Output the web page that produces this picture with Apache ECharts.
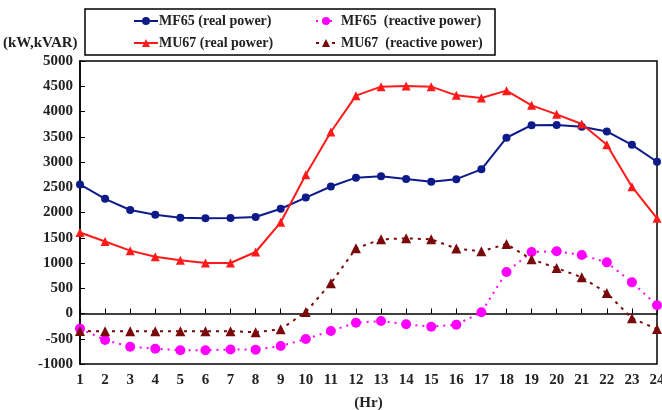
<!DOCTYPE html>
<html><head><meta charset="utf-8">
<script src="https://cdn.jsdelivr.net/npm/echarts@6/dist/echarts.min.js"></script>
<style>html,body{margin:0;padding:0;background:#fff}#c{width:662px;height:410px}</style>
</head><body><div id="c"></div>
<script>
const hours = ['1','2','3','4','5','6','7','8','9','10','11','12','13','14','15','16','17','18','19','20','21','22','23','24'];
const yTicks = [-1000, 5000, 500];
const mf65Real = [2555, 2270, 2050, 1955, 1895, 1885, 1890, 1910, 2075, 2295, 2515, 2690, 2720, 2665, 2610, 2660, 2855, 3480, 3730, 3735, 3700, 3605, 3340, 3005];
const mu67Real = [1605, 1425, 1245, 1125, 1055, 1000, 1000, 1218, 1806, 2749, 3594, 4314, 4492, 4505, 4492, 4320, 4267, 4413, 4122, 3944, 3752, 3343, 2511, 1885];
const mf65Reactive = [-300, -525, -657, -697, -729, -729, -712, -716, -644, -505, -347, -182, -149, -214, -261, -221, 24, 822, 1218, 1231, 1158, 1013, 617, 162];
const mu67Reactive = [-347, -353, -350, -350, -350, -350, -350, -370, -314, 30, 598, 1290, 1469, 1488, 1469, 1287, 1231, 1376, 1073, 901, 716, 406, -95, -307];
const names = ['MF65 (real power)', 'MU67 (real power)', 'MF65  (reactive power)', 'MU67  (reactive power)'];

const font = '"Liberation Serif", "DejaVu Serif", serif';
const chart = echarts.init(document.getElementById('c'));
chart.setOption({
  animation: false,
  backgroundColor: '#fff',
  grid: {left: 80, right: 5, top: 61, bottom: 46, containLabel: false, outerBoundsMode: 'none',
         show: true, borderColor: '#000', borderWidth: 1.5},
  graphic: [
    {type: 'rect', shape: {x: 85, y: 9, width: 410, height: 46}, style: {fill: 'none', stroke: '#000', lineWidth: 1.5}, z: 10},
    {type: 'text', left: 3, top: 36, style: {text: '(kW,kVAR)', font: 'bold 15px ' + font, fill: '#222'}}
  ],
  legend: [
    {data: [names[0], names[1]], orient: 'vertical', left: 128, top: 9, itemWidth: 24, itemHeight: 10, itemGap: 8,
     textStyle: {fontFamily: font, fontWeight: 'bold', fontSize: 14, color: '#222', padding: [0,0,0,-4]}},
    {data: [names[2], names[3]], orient: 'vertical', left: 310, top: 9, itemWidth: 20, itemHeight: 10, itemGap: 8,
     textStyle: {fontFamily: font, fontWeight: 'bold', fontSize: 14, color: '#222'}}
  ],
  xAxis: {
    type: 'category', data: hours, boundaryGap: false,
    name: '(Hr)', nameLocation: 'middle', nameGap: 32,
    nameTextStyle: {fontFamily: font, fontWeight: 'bold', fontSize: 15, color: '#222'},
    axisLine: {lineStyle: {color: '#000', width: 1.5}},
    axisTick: {inside: true, length: 5, lineStyle: {color: '#000'}, alignWithLabel: true},
    axisLabel: {fontFamily: font, fontWeight: 'bold', fontSize: 15, color: '#222', margin: 9},
    splitLine: {show: false}
  },
  yAxis: {
    type: 'value', min: yTicks[0], max: yTicks[1], interval: yTicks[2],
    axisLine: {show: true, lineStyle: {color: '#000', width: 1.5}},
    axisTick: {show: true, inside: true, length: 5, lineStyle: {color: '#000'}},
    axisLabel: {fontFamily: font, fontWeight: 'bold', fontSize: 15, color: '#222', margin: 7, formatter: v => String(v)},
    splitLine: {show: false}
  },
  series: [
    {name: names[0], type: 'line', data: mf65Real, symbol: 'circle', symbolSize: 8,
     itemStyle: {color: '#0d1a8a'}, lineStyle: {color: '#0d1a8a', width: 2}},
    {name: names[1], type: 'line', data: mu67Real, symbol: 'triangle', symbolSize: 9,
     itemStyle: {color: '#ff1a1a'}, lineStyle: {color: '#ff1a1a', width: 2}},
    {name: names[2], type: 'line', data: mf65Reactive, symbol: 'circle', symbolSize: 10,
     itemStyle: {color: '#ff00ff'}, lineStyle: {color: '#ff00ff', width: 2, type: [2, 5]}},
    {name: names[3], type: 'line', data: mu67Reactive, symbol: 'triangle', symbolSize: 10,
     itemStyle: {color: '#7a0a0a'}, lineStyle: {color: '#7a0a0a', width: 2, type: [3, 5]}}
  ]
});
</script></body></html>
